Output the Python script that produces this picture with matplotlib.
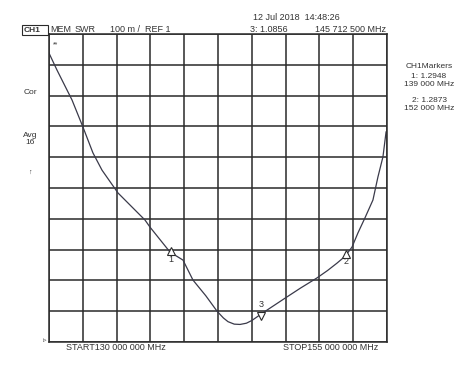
import matplotlib
matplotlib.use("Agg")
import matplotlib.pyplot as plt
from matplotlib.patches import Rectangle

plt.rcParams['font.family'] = ['Liberation Sans', 'DejaVu Sans']

# trace (MHz, SWR)
freq = [130.00, 130.59, 131.70, 132.51, 133.25, 133.92, 135.10, 137.10, 137.47,
        138.95, 139.91, 140.65, 141.60, 142.43, 142.90, 143.24, 143.70, 144.13,
        144.60, 145.01, 145.83, 147.31, 148.60, 149.82, 150.60, 151.30, 151.89,
        152.41, 152.85, 153.37, 153.96, 154.33, 154.70, 154.93]
swr = [1.938, 1.883, 1.786, 1.698, 1.614, 1.558, 1.484, 1.396, 1.373,
       1.292, 1.266, 1.201, 1.150, 1.100, 1.078, 1.066, 1.058, 1.057,
       1.061, 1.070, 1.095, 1.138, 1.175, 1.208, 1.232, 1.256, 1.278,
       1.308, 1.354, 1.403, 1.461, 1.536, 1.601, 1.682]

# markers
mk_num = ['1', '2', '3']
mk_freq = [139.0, 152.0, 145.7125]
mk_swr = [1.2948, 1.2873, 1.0856]

start_f, stop_f = 130.0, 155.0
ref, per_div = 1.0, 0.1

ink = '#2a2a2a'
txt = '#333333'

fig = plt.figure(figsize=(4.74, 3.66), dpi=100)
ax = fig.add_axes([49/474, 1 - 342/366, 338/474, 308/366])
ax.set_xlim(start_f, stop_f)
ax.set_ylim(ref, ref + 10 * per_div)
ax.set_xticks([start_f + i * 2.5 for i in range(11)])
ax.set_yticks([ref + i * per_div for i in range(11)])
ax.tick_params(length=0, labelbottom=False, labelleft=False)
ax.grid(True, color=ink, lw=1.1)
for s in ax.spines.values():
    s.set_color(ink)
    s.set_linewidth(1.1)

ax.plot(freq, swr, color='#3a3a4a', lw=0.9)

# marker triangles
for n, f, v in zip(mk_num, mk_freq, mk_swr):
    if n == '3':
        ax.plot([f], [v], marker='v', ms=6, mfc='white', mec=ink, mew=0.8,
                linestyle='none')
        ax.annotate(n, (f, v), xytext=(0, 8), textcoords='offset points',
                    ha='center', va='center', fontsize=6.5, color=txt)
    else:
        ax.plot([f], [v], marker='^', ms=6, mfc='white', mec=ink, mew=0.8,
                linestyle='none')
        ax.annotate(n, (f, v), xytext=(0, -6), textcoords='offset points',
                    ha='center', va='center', fontsize=6.5, color=txt)

# header texts
def put(x, y, s, **kw):
    kw.setdefault('fontsize', 6.5)
    kw.setdefault('color', txt)
    kw.setdefault('va', 'center')
    fig.text(x / 474, 1 - y / 366, s, **kw)

put(24, 30, 'CH1', fontsize=6, fontweight='bold')
fig.patches.append(Rectangle((22/474, 1 - 35/366), 26/474, 10/366,
                             transform=fig.transFigure, fill=False, ec=ink, lw=0.8))
put(50, 30, 'MEM')
put(75, 30, 'SWR')
put(110, 30, '100 m /  REF 1')
put(253, 17, '12 Jul 2018  14:48:26')
put(250, 30, '3: 1.0856')
put(315, 30, '145 712 500 MHz')

# right panel
put(429, 67, 'CH1Markers', ha='center', fontsize=6)
put(429, 77, '1: 1.2948', ha='center', fontsize=6)
put(429, 85, '139 000 MHz', ha='center', fontsize=6)
put(429, 100, '2: 1.2873', ha='center', fontsize=6)
put(429, 108, '152 000 MHz', ha='center', fontsize=6)

# left panel
put(30, 92, 'Cor', ha='center', fontsize=6)
put(30, 135, 'Avg', ha='center', fontsize=6)
put(30, 143, '16', ha='center', fontsize=6)
put(30, 172, '↑', ha='center', fontsize=5)
put(56, 45, '**', ha='center', fontsize=5)
put(45, 341, '▹', ha='center', fontsize=5)

# bottom
put(66, 348, 'START130 000 000 MHz')
put(283, 348, 'STOP155 000 000 MHz')

fig.savefig('out.png', dpi=100, facecolor='white')
